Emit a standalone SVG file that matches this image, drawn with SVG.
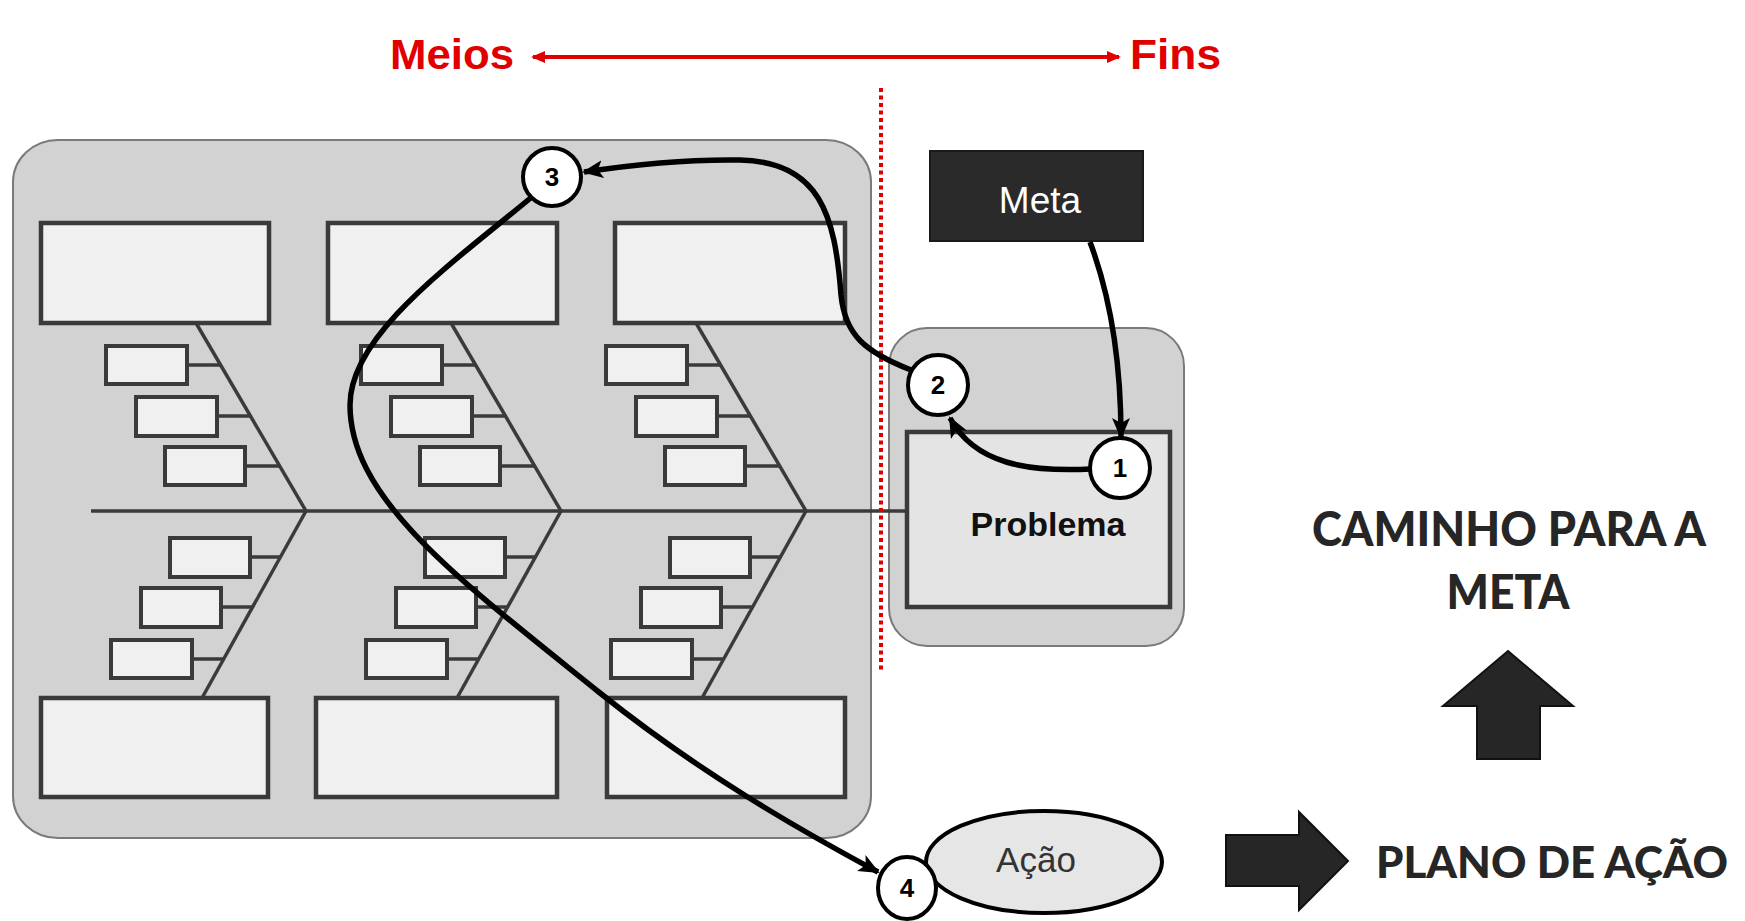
<svg xmlns="http://www.w3.org/2000/svg" width="1745" height="921" viewBox="0 0 1745 921">
<defs>
<style>
.panel{fill:#d2d2d2;stroke:#7a7a7a;stroke-width:2}
.big{fill:#f0f0f0;stroke:#3a3a3a;stroke-width:4.5}
.sm{fill:#f0f0f0;stroke:#3a3a3a;stroke-width:4}
.bone{stroke:#3a3a3a;stroke-width:3.5;fill:none}
.conn{stroke:#000;stroke-width:5.5;fill:none;marker-end:url(#ah)}
.num{fill:#fff;stroke:#000;stroke-width:4}
.numt{font-family:"Liberation Sans",Arial,sans-serif;font-weight:bold;font-size:26px;text-anchor:middle;fill:#000}
.red{font-family:"Liberation Sans",Arial,sans-serif;font-weight:bold;font-size:42px;fill:#e00000}
.rt{font-family:Lato,"Open Sans",sans-serif;font-weight:900;font-size:47px;fill:#262626}
</style>
<marker id="ah" markerUnits="userSpaceOnUse" markerWidth="24" markerHeight="20" refX="19" refY="9" orient="auto">
<path d="M0,0 L21,9 L0,18 L5,9 z" fill="#000"/>
</marker>
<marker id="rah" markerUnits="userSpaceOnUse" markerWidth="16" markerHeight="14" refX="12" refY="6" orient="auto-start-reverse">
<path d="M0,0 L14,6 L0,12 z" fill="#e00000"/>
</marker>
<g id="bonecol">
<line class="bone" x1="196" y1="323" x2="306" y2="511"/>
<line class="bone" x1="306" y1="511" x2="202" y2="698"/>
<line class="bone" x1="187" y1="365" x2="221" y2="365"/>
<line class="bone" x1="217" y1="416" x2="250" y2="416"/>
<line class="bone" x1="245" y1="466" x2="280" y2="466"/>
<line class="bone" x1="250" y1="557" x2="280" y2="557"/>
<line class="bone" x1="221" y1="607" x2="252" y2="607"/>
<line class="bone" x1="192" y1="659" x2="224" y2="659"/>
<rect class="sm" x="106" y="346" width="81" height="38"/>
<rect class="sm" x="136" y="397" width="81" height="39"/>
<rect class="sm" x="165" y="447" width="80" height="38"/>
<rect class="sm" x="170" y="538" width="80" height="39"/>
<rect class="sm" x="141" y="588" width="80" height="39"/>
<rect class="sm" x="111" y="640" width="81" height="38"/>
</g>
</defs>
<rect width="1745" height="921" fill="#fff"/>

<g id="meios-fins">
<text class="red" x="390" y="69" textLength="124" lengthAdjust="spacingAndGlyphs">Meios</text>
<text class="red" x="1130" y="69" textLength="91" lengthAdjust="spacingAndGlyphs">Fins</text>
<line x1="533" y1="57" x2="1119" y2="57" stroke="#e00000" stroke-width="4" marker-start="url(#rah)" marker-end="url(#rah)"/>
</g>

<g id="causas">
<rect class="panel" x="13" y="140" width="858" height="698" rx="45" ry="42"/>
<rect class="big" x="41" y="223" width="228" height="100"/>
<rect class="big" x="328" y="223" width="229" height="100"/>
<rect class="big" x="615" y="223" width="230" height="100"/>
<rect class="big" x="41" y="698" width="227" height="99"/>
<rect class="big" x="316" y="698" width="241" height="99"/>
<rect class="big" x="607" y="698" width="238" height="99"/>
<use href="#bonecol"/>
<use href="#bonecol" x="255"/>
<use href="#bonecol" x="500"/>
</g>

<g id="problema">
<rect class="panel" x="889" y="328" width="295" height="318" rx="38" ry="38"/>
<rect x="907" y="432" width="263" height="175" fill="#e4e4e4" stroke="#3a3a3a" stroke-width="4.5"/>
<text x="1048" y="536" font-family="'Liberation Sans',Arial,sans-serif" font-weight="bold" font-size="34" text-anchor="middle" fill="#111">Problema</text>
</g>

<g id="spine">
<line class="bone" x1="91" y1="511" x2="907" y2="511"/>
</g>

<g id="divisor">
<line x1="881" y1="88" x2="881" y2="673" stroke="#e00000" stroke-width="4" stroke-dasharray="4 3.5"/>
</g>

<g id="meta">
<rect x="930" y="151" width="213" height="90" fill="#2a2a2a" stroke="#1a1a1a" stroke-width="2"/>
<text x="1040" y="213" font-family="'Liberation Sans',Arial,sans-serif" font-size="37" text-anchor="middle" fill="#fff">Meta</text>
</g>

<g id="acao">
<ellipse cx="1044" cy="862" rx="118" ry="51" fill="#e6e6e6" stroke="#000" stroke-width="4"/>
<text x="1036" y="872" font-family="'Liberation Sans',Arial,sans-serif" font-size="35" text-anchor="middle" fill="#333">Ação</text>
</g>

<g id="connectors">
<path class="conn" d="M1090 242 C1108 290 1121 350 1121 437"/>
<path class="conn" d="M1091 469 C1030 472 975 465 950 418"/>
<path class="conn" d="M911 370 C865 352 845 335 841 295 C835 215 820 162 740 160 C680 159 630 165 584 172"/>
<path class="conn" d="M533 196 C450 265 350 335 350 405 C350 500 460 580 600 693 C700 773 800 830 878 872"/>
</g>

<g id="n1"><circle class="num" cx="1120" cy="468" r="30"/><text class="numt" x="1120" y="477">1</text></g>
<g id="n2"><circle class="num" cx="938" cy="385" r="30"/><text class="numt" x="938" y="394">2</text></g>
<g id="n3"><circle class="num" cx="552" cy="177" r="29"/><text class="numt" x="552" y="186">3</text></g>
<g id="n4"><ellipse class="num" cx="907" cy="888" rx="29" ry="31"/><text class="numt" x="907" y="897">4</text></g>

<g id="caminho">
<text class="rt" x="1509" y="546" text-anchor="middle" textLength="394" lengthAdjust="spacingAndGlyphs">CAMINHO PARA A</text>
<text class="rt" x="1508" y="609" text-anchor="middle" textLength="123" lengthAdjust="spacingAndGlyphs">META</text>
<path d="M1508 651 L1573 706 L1540 706 L1540 759 L1477 759 L1477 706 L1443 706 Z" fill="#262626" stroke="#111" stroke-width="2"/>
</g>

<g id="plano">
<path d="M1226 835 L1299 835 L1299 812 L1348 861 L1299 910 L1299 886 L1226 886 Z" fill="#262626" stroke="#111" stroke-width="2"/>
<text class="rt" x="1376" y="878" font-size="44" textLength="352" lengthAdjust="spacingAndGlyphs" style="font-size:44px">PLANO DE AÇÃO</text>
</g>
</svg>
